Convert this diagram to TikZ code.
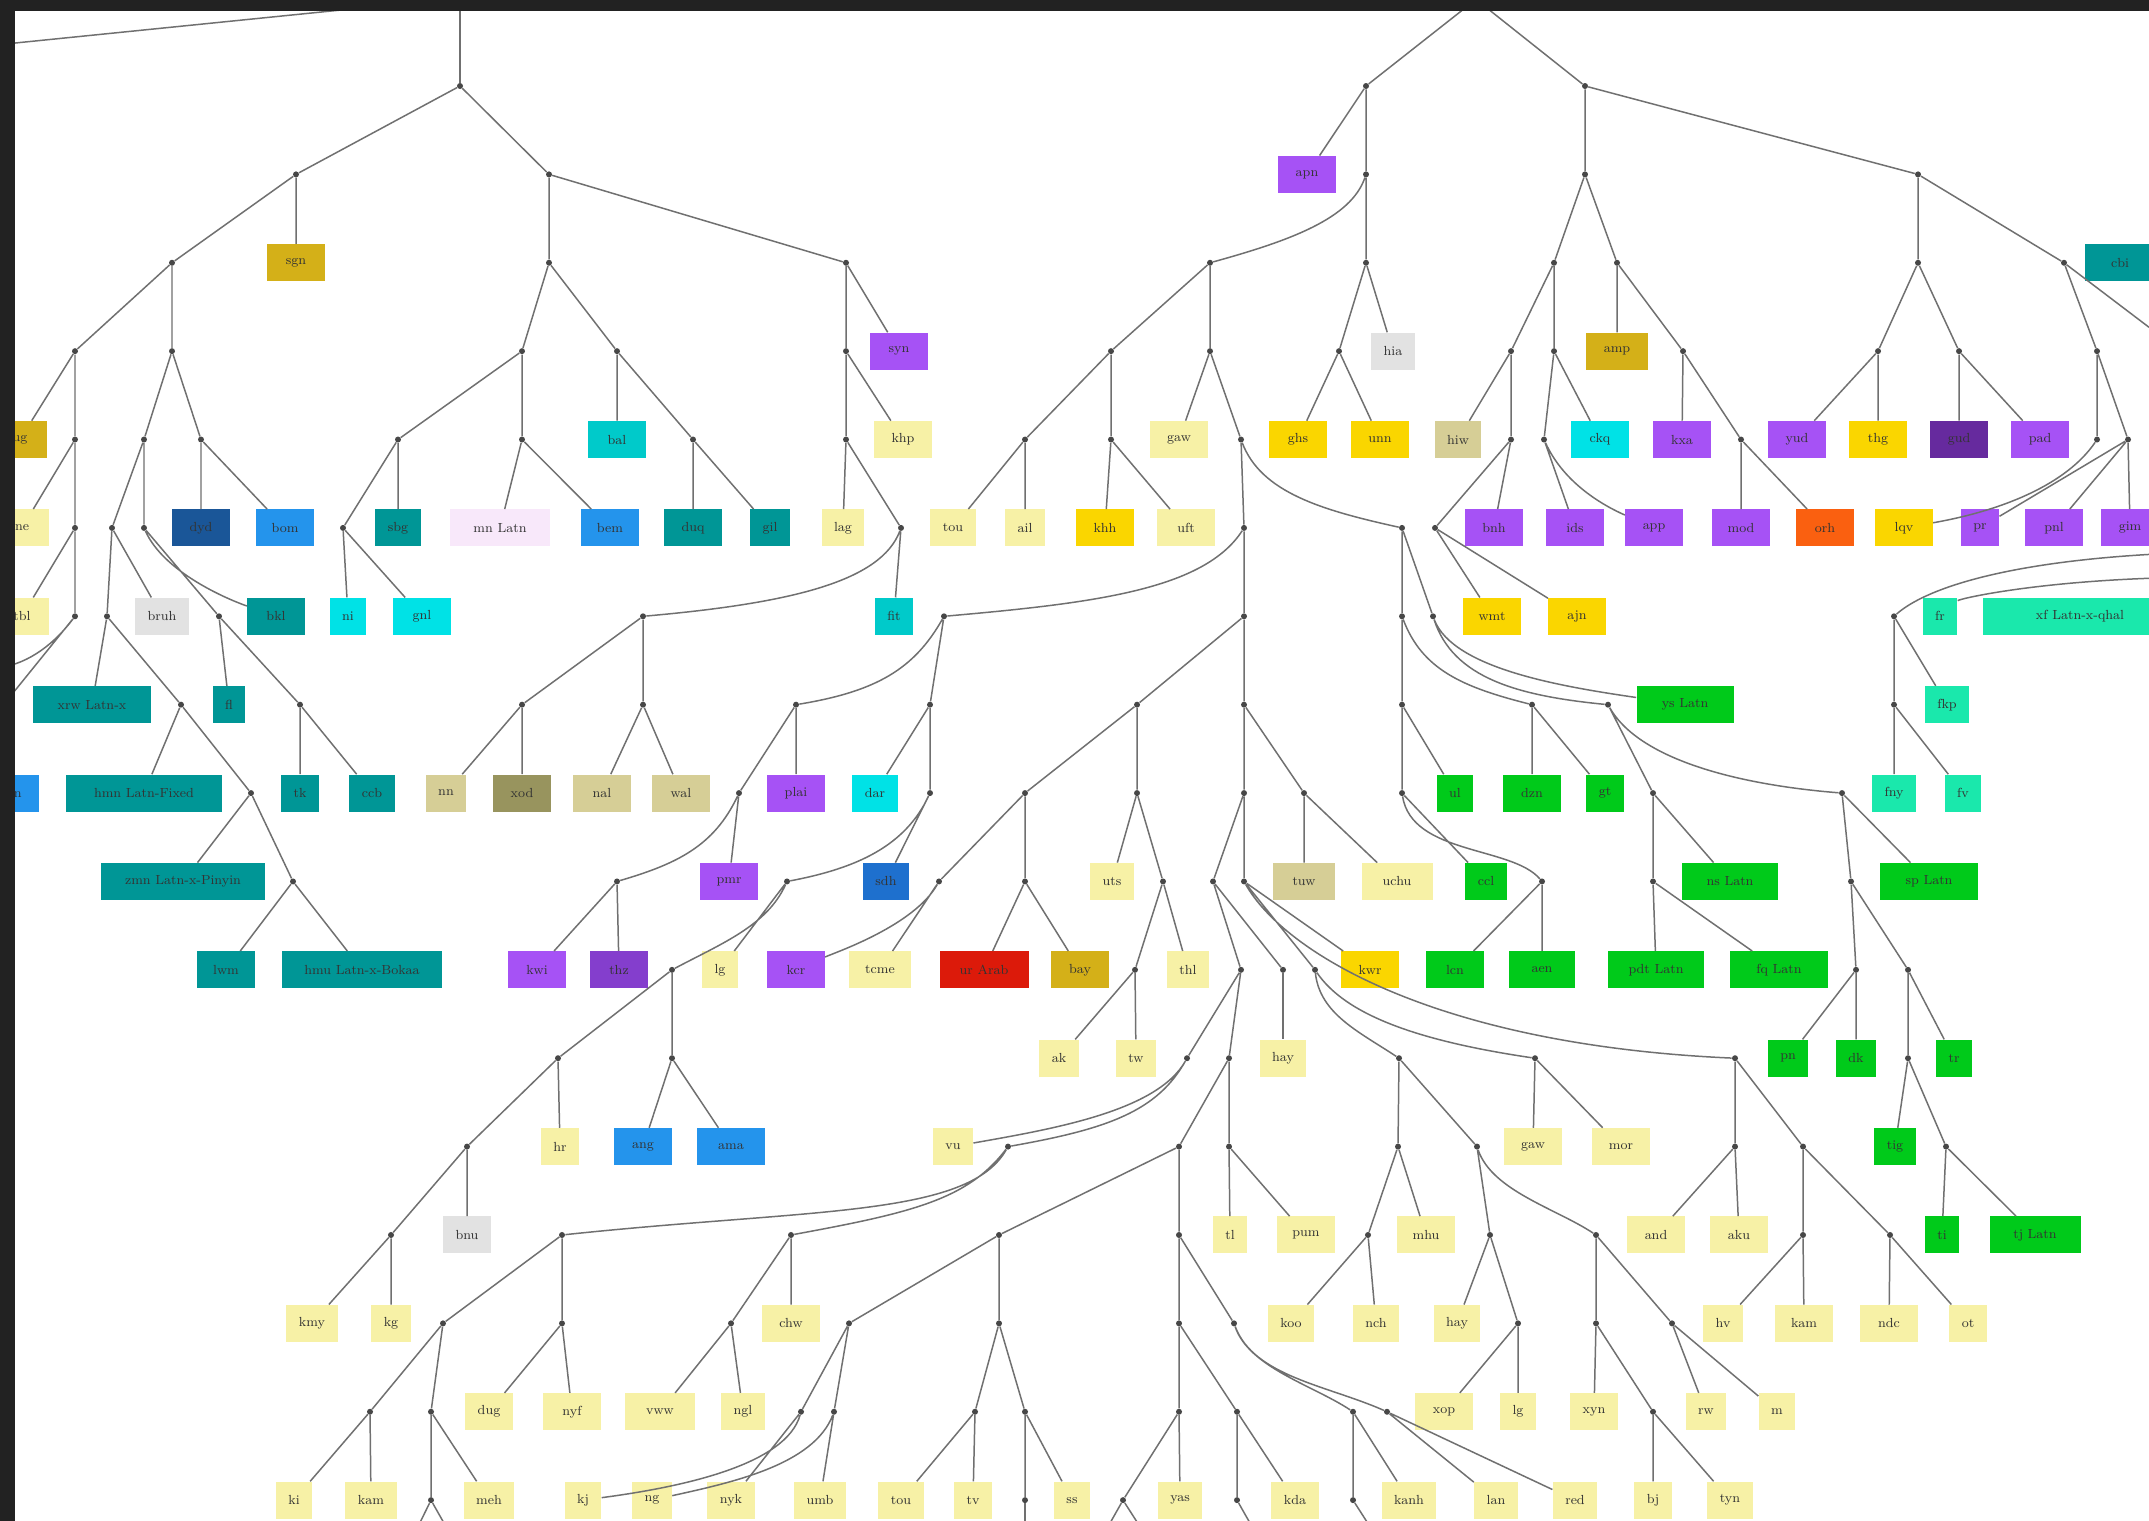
\documentclass[tikz,border=0pt]{standalone}
\usepackage{fontspec}
\usepackage{xcolor}
\usepackage{tikz}
\usetikzlibrary{positioning}
\definecolor{lgPale}{RGB}{247,241,166}
\definecolor{lgGold}{RGB}{250,214,0}
\definecolor{lgOchre}{RGB}{212,176,24}
\definecolor{lgKhaki}{RGB}{214,206,150}
\definecolor{lgOlive}{RGB}{152,148,94}
\definecolor{lgPurple}{RGB}{166,82,245}
\definecolor{lgViolet}{RGB}{132,62,205}
\definecolor{lgPlum}{RGB}{102,42,158}
\definecolor{lgTeal}{RGB}{0,150,150}
\definecolor{lgTurq}{RGB}{0,202,202}
\definecolor{lgCyan}{RGB}{0,226,230}
\definecolor{lgNavy}{RGB}{26,86,152}
\definecolor{lgBlue}{RGB}{36,148,236}
\definecolor{lgBlueMid}{RGB}{30,112,206}
\definecolor{lgGray}{RGB}{226,226,226}
\definecolor{lgPink}{RGB}{248,232,250}
\definecolor{lgGreen}{RGB}{0,202,26}
\definecolor{lgMint}{RGB}{26,232,172}
\definecolor{lgRed}{RGB}{220,26,10}
\definecolor{lgOrange}{RGB}{250,96,16}
\definecolor{lgEdge}{RGB}{112,112,112}
\definecolor{lgFrame}{RGB}{34,34,34}
\tikzset{
  junc/.style={circle, fill=black!72, inner sep=0pt, minimum size=0.12cm},
  lang/.style={rectangle, inner xsep=0.25cm, inner ysep=0pt, minimum height=0.74cm,
    font=\fontsize{7.5}{9}\selectfont, text=black!80},
  langw/.style={lang, minimum width=1.15cm},
  lnk/.style={lgEdge, line width=0.85pt},
}
\begin{document}
\begin{tikzpicture}[x=0.02cm, y=-1.768cm]
\useasboundingbox (0,-0.973) rectangle (2149,16.233);
\clip (0,-0.973) rectangle (2149,16.233);
\fill[white] (0,-0.973) rectangle (2149,16.233);

% frame ends
\coordinate (topA) at (460,-0.98);
\coordinate (topR) at (1476,-0.98);
\coordinate (tlW) at (0,-0.469);
\coordinate (tlN) at (440,-0.973);
\coordinate (offE3a) at (0,6.58);
\coordinate (offE3b) at (0,7.05);
\coordinate (offR21) at (2149,2.73);
\coordinate (offT1) at (2149,5.30);
\coordinate (offFr) at (2149,5.57);
\coordinate (bZ9a) at (418,16.3);
\coordinate (bZ9b) at (446,16.3);
\coordinate (bY21a) at (1108,16.3);
\coordinate (bY21b) at (1140,16.3);
\coordinate (bY22) at (1252,16.3);
\coordinate (bY20) at (1370,16.3);
\coordinate (bZ17) at (1025,16.3);

% junctions, left half
\node[junc] (A) at (460,0) {};
\node[junc] (B1) at (296,1) {};
\node[junc] (B2) at (549,1) {};
\node[junc] (C1) at (172,2) {};
\node[junc] (C2) at (549,2) {};
\node[junc] (C3) at (846,2) {};
\node[junc] (D1) at (75,3) {};
\node[junc] (D2) at (172,3) {};
\node[junc] (D3) at (522,3) {};
\node[junc] (D4) at (617,3) {};
\node[junc] (D5) at (846,3) {};
\node[junc] (E1) at (75,4) {};
\node[junc] (F1) at (144,4) {};
\node[junc] (F2) at (201,4) {};
\node[junc] (E4) at (398,4) {};
\node[junc] (E5) at (522,4) {};
\node[junc] (E6) at (693,4) {};
\node[junc] (E7) at (846,4) {};
\node[junc] (E8) at (1025,4) {};
\node[junc] (E2) at (75,5) {};
\node[junc] (G1) at (112,5) {};
\node[junc] (G2) at (144,5) {};
\node[junc] (F3) at (343,5) {};
\node[junc] (P1) at (901,5) {};
\node[junc] (E3) at (75,6) {};
\node[junc] (G4) at (107,6) {};
\node[junc] (G3) at (219,6) {};
\node[junc] (P2) at (643,6) {};
\node[junc] (H2) at (181,7) {};
\node[junc] (H1) at (300,7) {};
\node[junc] (P4) at (522,7) {};
\node[junc] (P3) at (643,7) {};
\node[junc] (I1) at (251,8) {};
\node[junc] (J1) at (293,9) {};

% junctions, right half
\node[junc] (R1) at (1366,0) {};
\node[junc] (R2) at (1585,0) {};
\node[junc] (R4) at (1366,1) {};
\node[junc] (R16) at (1585,1) {};
\node[junc] (R3) at (1918,1) {};
\node[junc] (R5) at (1210,2) {};
\node[junc] (R6) at (1366,2) {};
\node[junc] (R14) at (1554,2) {};
\node[junc] (R17) at (1617,2) {};
\node[junc] (R20) at (1918,2) {};
\node[junc] (R21) at (2064,2) {};
\node[junc] (R7) at (1111,3) {};
\node[junc] (R8) at (1210,3) {};
\node[junc] (R11) at (1339,3) {};
\node[junc] (R12) at (1511,3) {};
\node[junc] (R15) at (1554,3) {};
\node[junc] (R18) at (1683,3) {};
\node[junc] (R23) at (1878,3) {};
\node[junc] (R24) at (1959,3) {};
\node[junc] (R25) at (2097,3) {};
\node[junc] (R9) at (1111,4) {};
\node[junc] (R10) at (1241,4) {};
\node[junc] (R13) at (1511,4) {};
\node[junc] (R19) at (1544,4) {};
\node[junc] (R22) at (1741,4) {};
\node[junc] (R26) at (2097,4) {};
\node[junc] (R27) at (2128,4) {};
\node[junc] (R28) at (1244,5) {};
\node[junc] (V1) at (1402,5) {};
\node[junc] (V2) at (1435,5) {};
\node[junc] (X2) at (944,6) {};
\node[junc] (X1) at (1244,6) {};
\node[junc] (V3) at (1402,6) {};
\node[junc] (V4) at (1433,6) {};
\node[junc] (T1) at (1894,6) {};
\node[junc] (P5) at (796,7) {};
\node[junc] (P6) at (930,7) {};
\node[junc] (X3) at (1137,7) {};
\node[junc] (X4) at (1244,7) {};
\node[junc] (V5) at (1402,7) {};
\node[junc] (V6) at (1532,7) {};
\node[junc] (U1) at (1608,7) {};
\node[junc] (T2) at (1894,7) {};
\node[junc] (P7) at (739,8) {};
\node[junc] (P8) at (930,8) {};
\node[junc] (X9) at (1025,8) {};
\node[junc] (X5) at (1137,8) {};
\node[junc] (X6) at (1244,8) {};
\node[junc] (X7) at (1304,8) {};
\node[junc] (V7) at (1402,8) {};
\node[junc] (U2) at (1653,8) {};
\node[junc] (U4) at (1842,8) {};
\node[junc] (P9) at (617,9) {};
\node[junc] (P10) at (787,9) {};
\node[junc] (P11) at (939,9) {};
\node[junc] (X10) at (1025,9) {};
\node[junc] (X8) at (1163,9) {};
\node[junc] (X12) at (1213,9) {};
\node[junc] (X13) at (1244,9) {};
\node[junc] (V8) at (1542,9) {};
\node[junc] (U3) at (1653,9) {};
\node[junc] (U5) at (1851,9) {};
\node[junc] (P12) at (672,10) {};
\node[junc] (X11) at (1135,10) {};
\node[junc] (X14) at (1241,10) {};
\node[junc] (X15) at (1283,10) {};
\node[junc] (X16) at (1315,10) {};
\node[junc] (U6) at (1856,10) {};
\node[junc] (U7) at (1908,10) {};
\node[junc] (P14) at (558,11) {};
\node[junc] (P13) at (672,11) {};
\node[junc] (Y1) at (1187,11) {};
\node[junc] (Y2) at (1229,11) {};
\node[junc] (Y3) at (1399,11) {};
\node[junc] (Y4) at (1535,11) {};
\node[junc] (W1) at (1735,11) {};
\node[junc] (U8) at (1908,11) {};
\node[junc] (P15) at (467,12) {};
\node[junc] (Z1) at (1008,12) {};
\node[junc] (Y5) at (1179,12) {};
\node[junc] (Y6) at (1229,12) {};
\node[junc] (Y8) at (1398,12) {};
\node[junc] (Y9) at (1477,12) {};
\node[junc] (W2) at (1735,12) {};
\node[junc] (W3) at (1803,12) {};
\node[junc] (U9) at (1946,12) {};
\node[junc] (P16) at (391,13) {};
\node[junc] (Z2) at (562,13) {};
\node[junc] (Z3) at (791,13) {};
\node[junc] (Z4) at (999,13) {};
\node[junc] (Y7) at (1179,13) {};
\node[junc] (Y10) at (1368,13) {};
\node[junc] (Y11) at (1490,13) {};
\node[junc] (Y12) at (1596,13) {};
\node[junc] (W4) at (1803,13) {};
\node[junc] (W5) at (1890,13) {};
\node[junc] (Z6) at (443,14) {};
\node[junc] (Z5) at (562,14) {};
\node[junc] (Z10) at (731,14) {};
\node[junc] (Z11) at (849,14) {};
\node[junc] (Z12) at (999,14) {};
\node[junc] (Y14) at (1179,14) {};
\node[junc] (Y15) at (1234,14) {};
\node[junc] (Y13) at (1518,14) {};
\node[junc] (Y23) at (1596,14) {};
\node[junc] (Y24) at (1672,14) {};
\node[junc] (Z7) at (370,15) {};
\node[junc] (Z8) at (431,15) {};
\node[junc] (Z13) at (801,15) {};
\node[junc] (Z14) at (834,15) {};
\node[junc] (Z15) at (975,15) {};
\node[junc] (Z16) at (1025,15) {};
\node[junc] (Y16) at (1179,15) {};
\node[junc] (Y17) at (1237,15) {};
\node[junc] (Y18) at (1353,15) {};
\node[junc] (Y19) at (1387,15) {};
\node[junc] (Y25) at (1653,15) {};
\node[junc] (Z9) at (431,16) {};
\node[junc] (Z17) at (1025,16) {};
\node[junc] (Y21) at (1123,16) {};
\node[junc] (Y22) at (1237,16) {};
\node[junc] (Y20) at (1353,16) {};

% leaves, left half
\node[langw, fill=lgOchre] (l-sgn) at (296,2) {sgn};
\node[lang, fill=lgOchre, minimum width=1.1cm] (l-ug) at (20,4) {ug};
\node[lang, fill=lgPale, minimum width=1.1cm] (l-ne) at (22,5) {ne};
\node[lang, fill=lgPale, minimum width=1.1cm] (l-tbl) at (22,6) {tbl};
\node[lang, fill=lgBlue, minimum width=1.0cm] (l-bn) at (14,8) {bn};
\node[langw, fill=lgNavy] (l-dyd) at (201,5) {dyd};
\node[langw, fill=lgBlue] (l-bom) at (285,5) {bom};
\node[lang, fill=lgTeal] (l-sbg) at (398,5) {sbg};
\node[lang, fill=lgPink, minimum width=2.0cm] (l-mn) at (500,5) {mn Latn};
\node[langw, fill=lgBlue] (l-bem) at (610,5) {bem};
\node[langw, fill=lgTeal] (l-duq) at (693,5) {duq};
\node[lang, fill=lgTeal] (l-gil) at (770,5) {gil};
\node[lang, fill=lgGray] (l-bruh) at (162,6) {bruh};
\node[langw, fill=lgTeal] (l-bkl) at (276,6) {bkl};
\node[lang, fill=lgCyan] (l-ni) at (348,6) {ni};
\node[langw, fill=lgCyan] (l-gnl) at (422,6) {gnl};
\node[lang, fill=lgTeal, minimum width=2.38cm] (l-xrw) at (92,7) {xrw Latn-x};
\node[lang, fill=lgTeal] (l-fl) at (229,7) {fl};
\node[lang, fill=lgTeal, minimum width=3.14cm] (l-hmn) at (144,8) {hmn Latn-Fixed};
\node[lang, fill=lgTeal] (l-tk) at (300,8) {tk};
\node[lang, fill=lgTeal] (l-ccb) at (372,8) {ccb};
\node[lang, fill=lgTeal, minimum width=3.3cm] (l-zmn) at (183,9) {zmn Latn-x-Pinyin};
\node[langw, fill=lgTeal] (l-lwm) at (226,10) {lwm};
\node[lang, fill=lgTeal, minimum width=3.22cm] (l-hmu) at (362,10) {hmu Latn-x-Bokaa};
\node[langw, fill=lgTurq] (l-bal) at (617,4) {bal};
\node[langw, fill=lgPurple] (l-syn) at (899,3) {syn};
\node[langw, fill=lgPale] (l-khp) at (903,4) {khp};
\node[lang, fill=lgPale] (l-lag) at (843,5) {lag};
\node[lang, fill=lgPale] (l-tou1) at (953,5) {tou};
\node[lang, fill=lgPale] (l-ail) at (1025,5) {ail};
\node[langw, fill=lgGold] (l-khh) at (1105,5) {khh};
\node[langw, fill=lgPale] (l-uft) at (1186,5) {uft};
\node[lang, fill=lgTurq] (l-fit) at (894,6) {fit};
\node[lang, fill=lgKhaki] (l-nn) at (446,8) {nn};
\node[langw, fill=lgOlive] (l-xod) at (522,8) {xod};
\node[langw, fill=lgKhaki] (l-nal) at (602,8) {nal};
\node[langw, fill=lgKhaki] (l-wal) at (681,8) {wal};
\node[langw, fill=lgPurple] (l-plai) at (796,8) {plai};
\node[lang, fill=lgCyan] (l-dar) at (875,8) {dar};
\node[langw, fill=lgPurple] (l-pmr) at (729,9) {pmr};
\node[lang, fill=lgBlueMid] (l-sdh) at (886,9) {sdh};
\node[langw, fill=lgPurple] (l-kwi) at (537,10) {kwi};
\node[langw, fill=lgViolet] (l-thz) at (619,10) {thz};
\node[lang, fill=lgPale] (l-lg1) at (720,10) {lg};
\node[langw, fill=lgPurple] (l-kcr) at (796,10) {kcr};
\node[lang, fill=lgPale, minimum width=1.25cm] (l-tcme) at (880,10) {tcme};
\node[lang, fill=lgRed, minimum width=1.78cm] (l-urd) at (984,10) {ur Arab};
\node[langw, fill=lgOchre] (l-bay) at (1080,10) {bay};
\node[lang, fill=lgPale] (l-uts) at (1112,9) {uts};
\node[lang, fill=lgPale] (l-thl) at (1188,10) {thl};
\node[lang, fill=lgKhaki, minimum width=1.25cm] (l-tuw) at (1304,9) {tuw};
\node[lang, fill=lgPale, minimum width=1.42cm] (l-uchu) at (1397,9) {uchu};
\node[langw, fill=lgGold] (l-kwr) at (1370,10) {kwr};
\node[lang, fill=lgPale] (l-ak) at (1059,11) {ak};
\node[lang, fill=lgPale] (l-tw) at (1136,11) {tw};
\node[lang, fill=lgPale] (l-hay1) at (1283,11) {hay};
\node[lang, fill=lgPale] (l-hr) at (560,12) {hr};
\node[langw, fill=lgBlue] (l-ang) at (643,12) {ang};
\node[lang, fill=lgBlue, minimum width=1.37cm] (l-ama) at (731,12) {ama};
\node[lang, fill=lgPale] (l-vu) at (953,12) {vu};
\node[lang, fill=lgGray] (l-bnu) at (467,13) {bnu};
\node[lang, fill=lgPale] (l-kmy) at (312,14) {kmy};
\node[lang, fill=lgPale] (l-kg) at (391,14) {kg};
\node[langw, fill=lgPale] (l-chw) at (791,14) {chw};
\node[lang, fill=lgPale] (l-dug) at (489,15) {dug};
\node[langw, fill=lgPale] (l-nyf) at (572,15) {nyf};
\node[lang, fill=lgPale, minimum width=1.4cm] (l-vww) at (660,15) {vww};
\node[lang, fill=lgPale] (l-ngl) at (743,15) {ngl};
\node[lang, fill=lgPale] (l-ki) at (294,16) {ki};
\node[lang, fill=lgPale] (l-kam1) at (371,16) {kam};
\node[lang, fill=lgPale] (l-meh) at (489,16) {meh};
\node[lang, fill=lgPale] (l-kj) at (583,16) {kj};
\node[lang, fill=lgPale] (l-ng) at (652,16) {ng};
\node[lang, fill=lgPale] (l-nyk) at (731,16) {nyk};
\node[lang, fill=lgPale] (l-umb) at (820,16) {umb};
\node[lang, fill=lgPale] (l-tou2) at (901,16) {tou};
\node[lang, fill=lgPale] (l-tv) at (973,16) {tv};
\node[lang, fill=lgPale] (l-ss) at (1072,16) {ss};
\node[lang, fill=lgPale] (l-yas) at (1180,16) {yas};
\node[lang, fill=lgPale] (l-kda) at (1295,16) {kda};
\node[lang, fill=lgPale] (l-kanh) at (1409,16) {kanh};
\node[lang, fill=lgPale] (l-lan) at (1496,16) {lan};
\node[lang, fill=lgPale] (l-red) at (1575,16) {red};
\node[lang, fill=lgPale] (l-bj) at (1653,16) {bj};
\node[lang, fill=lgPale] (l-tyn) at (1730,16) {tyn};
\node[lang, fill=lgPale] (l-tl) at (1230,13) {tl};
\node[langw, fill=lgPale] (l-pum) at (1306,13) {pum};
\node[langw, fill=lgPale] (l-mhu) at (1426,13) {mhu};
\node[lang, fill=lgPale] (l-koo) at (1291,14) {koo};
\node[lang, fill=lgPale] (l-nch) at (1376,14) {nch};
\node[lang, fill=lgPale] (l-hay2) at (1457,14) {hay};
\node[langw, fill=lgPale] (l-xop) at (1444,15) {xop};
\node[lang, fill=lgPale] (l-lg2) at (1518,15) {lg};
\node[lang, fill=lgPale] (l-xyn) at (1594,15) {xyn};
\node[lang, fill=lgPale] (l-rw) at (1706,15) {rw};
\node[lang, fill=lgPale] (l-m) at (1777,15) {m};
\node[langw, fill=lgPale] (l-gaw2) at (1533,12) {gaw};
\node[langw, fill=lgPale] (l-mor) at (1621,12) {mor};
\node[langw, fill=lgPale] (l-and) at (1656,13) {and};
\node[langw, fill=lgPale] (l-aku) at (1739,13) {aku};
\node[lang, fill=lgPale] (l-hv) at (1723,14) {hv};
\node[langw, fill=lgPale] (l-kam2) at (1804,14) {kam};
\node[langw, fill=lgPale] (l-ndc) at (1889,14) {ndc};
\node[lang, fill=lgPale] (l-ot) at (1968,14) {ot};

% leaves, right half
\node[langw, fill=lgPurple] (l-apn) at (1307,1) {apn};
\node[langw, fill=lgPale] (l-gaw1) at (1179,4) {gaw};
\node[lang, fill=lgGray] (l-hia) at (1393,3) {hia};
\node[langw, fill=lgGold] (l-ghs) at (1298,4) {ghs};
\node[langw, fill=lgGold] (l-unn) at (1380,4) {unn};
\node[lang, fill=lgKhaki] (l-hiw) at (1458,4) {hiw};
\node[langw, fill=lgCyan] (l-ckq) at (1600,4) {ckq};
\node[lang, fill=lgOchre, minimum width=1.25cm] (l-amp) at (1617,3) {amp};
\node[langw, fill=lgPurple] (l-kxa) at (1682,4) {kxa};
\node[langw, fill=lgPurple] (l-yud) at (1797,4) {yud};
\node[langw, fill=lgGold] (l-thg) at (1878,4) {thg};
\node[langw, fill=lgPlum] (l-gud) at (1959,4) {gud};
\node[langw, fill=lgPurple] (l-pad) at (2040,4) {pad};
\node[lang, fill=lgTeal, minimum width=1.4cm] (l-cbi) at (2120,2) {cbi};
\node[langw, fill=lgPurple] (l-bnh) at (1494,5) {bnh};
\node[langw, fill=lgPurple] (l-ids) at (1575,5) {ids};
\node[langw, fill=lgPurple] (l-app) at (1654,5) {app};
\node[langw, fill=lgPurple] (l-mod) at (1741,5) {mod};
\node[langw, fill=lgOrange] (l-orh) at (1825,5) {orh};
\node[langw, fill=lgGold] (l-lqv) at (1904,5) {lqv};
\node[lang, fill=lgPurple] (l-pr) at (1980,5) {pr};
\node[langw, fill=lgPurple] (l-pnl) at (2054,5) {pnl};
\node[langw, fill=lgPurple] (l-gim) at (2130,5) {gim};
\node[langw, fill=lgGold] (l-wmt) at (1492,6) {wmt};
\node[langw, fill=lgGold] (l-ajn) at (1577,6) {ajn};
\node[lang, fill=lgMint] (l-fr) at (1940,6) {fr};
\node[lang, fill=lgMint, minimum width=3.9cm] (l-xf) at (2080,6) {xf Latn-x-qhal};
\node[lang, fill=lgGreen, minimum width=1.94cm] (l-ys) at (1685,7) {ys Latn};
\node[lang, fill=lgMint] (l-fkp) at (1947,7) {fkp};
\node[lang, fill=lgGreen] (l-ul) at (1455,8) {ul};
\node[langw, fill=lgGreen] (l-dzn) at (1532,8) {dzn};
\node[lang, fill=lgGreen] (l-gt) at (1605,8) {gt};
\node[lang, fill=lgMint] (l-fny) at (1894,8) {fny};
\node[lang, fill=lgMint] (l-fv) at (1963,8) {fv};
\node[lang, fill=lgGreen] (l-ccl) at (1486,9) {ccl};
\node[lang, fill=lgGreen, minimum width=1.92cm] (l-ns) at (1730,9) {ns Latn};
\node[lang, fill=lgGreen, minimum width=1.96cm] (l-sp) at (1929,9) {sp Latn};
\node[langw, fill=lgGreen] (l-lcn) at (1455,10) {lcn};
\node[lang, fill=lgGreen, minimum width=1.32cm] (l-aen) at (1542,10) {aen};
\node[lang, fill=lgGreen, minimum width=1.92cm] (l-pdt) at (1656,10) {pdt Latn};
\node[lang, fill=lgGreen, minimum width=1.96cm] (l-fq) at (1779,10) {fq Latn};
\node[lang, fill=lgGreen] (l-pn) at (1788,11) {pn};
\node[lang, fill=lgGreen] (l-dk) at (1856,11) {dk};
\node[lang, fill=lgGreen] (l-tr) at (1954,11) {tr};
\node[lang, fill=lgGreen] (l-tig) at (1895,12) {tig};
\node[lang, fill=lgGreen] (l-ti) at (1942,13) {ti};
\node[lang, fill=lgGreen, minimum width=1.82cm] (l-tj) at (2035,13) {tj Latn};

% links, left half
\draw[lnk] (topA) -- (A);
\draw[lnk] (tlW) -- (tlN);
\draw[lnk] (A) -- (B1) (A) -- (B2);
\draw[lnk] (B1) -- (C1) (B1) -- (l-sgn);
\draw[lnk] (C1) -- (D1) (C1) -- (D2);
\draw[lnk] (D1) -- (l-ug) (D1) -- (E1);
\draw[lnk] (E1) -- (l-ne) (E1) -- (E2);
\draw[lnk] (E2) -- (l-tbl) (E2) -- (E3);
\draw[lnk] (E3) .. controls +(-20,0.3) and +(30,-0.05) .. (offE3a) (E3) -- (offE3b);
\draw[lnk] (D2) -- (F1) (D2) -- (F2);
\draw[lnk] (F1) -- (G1) (F1) -- (G2);
\draw[lnk] (F2) -- (l-dyd) (F2) -- (l-bom);
\draw[lnk] (G1) -- (G4) (G1) -- (l-bruh);
\draw[lnk] (G2) .. controls +(20,0.5) and +(-50,-0.2) .. (l-bkl) (G2) -- (G3);
\draw[lnk] (G4) -- (l-xrw) (G4) -- (H2);
\draw[lnk] (G3) -- (l-fl) (G3) -- (H1);
\draw[lnk] (H2) -- (l-hmn) (H2) -- (I1);
\draw[lnk] (H1) -- (l-tk) (H1) -- (l-ccb);
\draw[lnk] (I1) -- (l-zmn) (I1) -- (J1);
\draw[lnk] (J1) -- (l-lwm) (J1) -- (l-hmu);
\draw[lnk] (B2) -- (C2) (B2) -- (C3);
\draw[lnk] (C2) -- (D3) (C2) -- (D4);
\draw[lnk] (D3) -- (E4) (D3) -- (E5);
\draw[lnk] (E4) -- (F3) (E4) -- (l-sbg);
\draw[lnk] (E5) -- (l-mn) (E5) -- (l-bem);
\draw[lnk] (F3) -- (l-ni) (F3) -- (l-gnl);
\draw[lnk] (D4) -- (l-bal) (D4) -- (E6);
\draw[lnk] (E6) -- (l-duq) (E6) -- (l-gil);
\draw[lnk] (C3) -- (l-syn) (C3) -- (D5);
\draw[lnk] (D5) -- (l-khp) (D5) -- (E7);
\draw[lnk] (E7) -- (l-lag) (E7) -- (P1);
\draw[lnk] (P1) -- (l-fit) (P1) .. controls +(-20,0.6) and +(150,-0.15) .. (P2);
\draw[lnk] (P2) -- (P3) (P2) -- (P4);
\draw[lnk] (P3) -- (l-nal) (P3) -- (l-wal);
\draw[lnk] (P4) -- (l-nn) (P4) -- (l-xod);

% links, upper right
\draw[lnk] (topR) -- (R1) (topR) -- (R2);
\draw[lnk] (R1) -- (l-apn) (R1) -- (R4);
\draw[lnk] (R4) .. controls +(-15,0.5) and +(80,-0.25) .. (R5) (R4) -- (R6);
\draw[lnk] (R5) -- (R7) (R5) -- (R8);
\draw[lnk] (R7) -- (E8) (R7) -- (R9);
\draw[lnk] (E8) -- (l-tou1) (E8) -- (l-ail);
\draw[lnk] (R9) -- (l-khh) (R9) -- (l-uft);
\draw[lnk] (R8) -- (l-gaw1) (R8) -- (R10);
\draw[lnk] (R10) -- (R28) (R10) .. controls +(20,0.6) and +(-80,-0.2) .. (V1);
\draw[lnk] (R6) -- (R11) (R6) -- (l-hia);
\draw[lnk] (R11) -- (l-ghs) (R11) -- (l-unn);
\draw[lnk] (R2) -- (R16) (R2) -- (R3);
\draw[lnk] (R16) -- (R14) (R16) -- (R17);
\draw[lnk] (R14) -- (R12) (R14) -- (R15);
\draw[lnk] (R12) -- (l-hiw) (R12) -- (R13);
\draw[lnk] (R13) -- (V2) (R13) -- (l-bnh);
\draw[lnk] (R15) -- (R19) (R15) -- (l-ckq);
\draw[lnk] (R19) -- (l-ids) (R19) .. controls +(20,0.5) and +(-50,-0.25) .. (l-app);
\draw[lnk] (R17) -- (l-amp) (R17) -- (R18);
\draw[lnk] (R18) -- (l-kxa) (R18) -- (R22);
\draw[lnk] (R22) -- (l-mod) (R22) -- (l-orh);
\draw[lnk] (R3) -- (R20) (R3) -- (R21);
\draw[lnk] (R20) -- (R23) (R20) -- (R24);
\draw[lnk] (R23) -- (l-yud) (R23) -- (l-thg);
\draw[lnk] (R24) -- (l-gud) (R24) -- (l-pad);
\draw[lnk] (R21) -- (R25) (R21) -- (offR21);
\draw[lnk] (R25) -- (R26) (R25) -- (R27);
\draw[lnk] (R26) .. controls +(-30,0.5) and +(100,-0.2) .. (l-lqv);
\draw[lnk] (R27) -- (l-pr) (R27) -- (l-pnl) (R27) -- (l-gim);
\draw[lnk] (offT1) .. controls +(-150,0.1) and +(30,-0.3) .. (T1);
\draw[lnk] (offFr) .. controls +(-120,0.05) and +(20,-0.2) .. (l-fr);
\draw[lnk] (T1) -- (T2) (T1) -- (l-fkp);
\draw[lnk] (T2) -- (l-fny) (T2) -- (l-fv);

% links, middle
\draw[lnk] (R28) -- (X1) (R28) .. controls +(-40,0.7) and +(150,-0.15) .. (X2);
\draw[lnk] (X2) .. controls +(-30,0.6) and +(80,-0.15) .. (P5) (X2) -- (P6);
\draw[lnk] (P5) -- (P7) (P5) -- (l-plai);
\draw[lnk] (P6) -- (l-dar) (P6) -- (P8);
\draw[lnk] (P7) -- (l-pmr) (P7) .. controls +(-25,0.6) and +(60,-0.2) .. (P9);
\draw[lnk] (P8) -- (l-sdh) (P8) .. controls +(-25,0.6) and +(70,-0.15) .. (P10);
\draw[lnk] (P9) -- (l-kwi) (P9) -- (l-thz);
\draw[lnk] (P10) -- (l-lg1) (P10) .. controls +(-20,0.5) and +(50,-0.3) .. (P12);
\draw[lnk] (P12) -- (P14) (P12) -- (P13);
\draw[lnk] (P14) -- (l-hr) (P14) -- (P15);
\draw[lnk] (P13) -- (l-ang) (P13) -- (l-ama);
\draw[lnk] (P15) -- (l-bnu) (P15) -- (P16);
\draw[lnk] (P16) -- (l-kmy) (P16) -- (l-kg);
\draw[lnk] (X1) -- (X3) (X1) -- (X4);
\draw[lnk] (X3) -- (X9) (X3) -- (X5);
\draw[lnk] (X9) -- (P11) (X9) -- (X10);
\draw[lnk] (P11) .. controls +(-25,0.5) and +(40,-0.2) .. (l-kcr) (P11) -- (l-tcme);
\draw[lnk] (X10) -- (l-urd) (X10) -- (l-bay);
\draw[lnk] (X5) -- (l-uts) (X5) -- (X8);
\draw[lnk] (X8) -- (X11) (X8) -- (l-thl);
\draw[lnk] (X11) -- (l-ak) (X11) -- (l-tw);
\draw[lnk] (X4) -- (X6) (X4) -- (X7);
\draw[lnk] (X6) -- (X12) (X6) -- (X13);
\draw[lnk] (X7) -- (l-tuw) (X7) -- (l-uchu);
\draw[lnk] (X12) -- (X14) (X12) -- (X15);
\draw[lnk] (X13) -- (X16) (X13) -- (l-kwr) (X13) .. controls +(40,0.8) and +(-300,-0.15) .. (W1);
\draw[lnk] (X14) -- (Y1) (X14) -- (Y2);
\draw[lnk] (X15) -- (l-hay1);
\draw[lnk] (X16) .. controls +(5,0.5) and +(-40,-0.3) .. (Y3) (X16) .. controls +(30,0.5) and +(-120,-0.2) .. (Y4);
\draw[lnk] (Y1) .. controls +(-30,0.6) and +(100,-0.2) .. (l-vu) (Y1) .. controls +(-30,0.6) and +(100,-0.2) .. (Z1);
\draw[lnk] (Z1) .. controls +(-40,0.8) and +(250,-0.3) .. (Z2) (Z1) .. controls +(-40,0.6) and +(120,-0.25) .. (Z3);
\draw[lnk] (Z2) -- (Z5) (Z2) -- (Z6);
\draw[lnk] (Z5) -- (l-dug) (Z5) -- (l-nyf);
\draw[lnk] (Z6) -- (Z7) (Z6) -- (Z8);
\draw[lnk] (Z7) -- (l-ki) (Z7) -- (l-kam1);
\draw[lnk] (Z8) -- (Z9) (Z8) -- (l-meh);
\draw[lnk] (Z9) -- (bZ9a) (Z9) -- (bZ9b);
\draw[lnk] (Z3) -- (Z10) (Z3) -- (l-chw);
\draw[lnk] (Z10) -- (l-vww) (Z10) -- (l-ngl);
\draw[lnk] (Y2) -- (Y5) (Y2) -- (Y6);
\draw[lnk] (Y5) -- (Z4) (Y5) -- (Y7);
\draw[lnk] (Z4) -- (Z11) (Z4) -- (Z12);
\draw[lnk] (Z11) -- (Z13) (Z11) -- (Z14);
\draw[lnk] (Z13) .. controls +(-15,0.6) and +(100,-0.15) .. (l-kj) (Z13) -- (l-nyk);
\draw[lnk] (Z14) .. controls +(-20,0.6) and +(80,-0.2) .. (l-ng) (Z14) -- (l-umb);
\draw[lnk] (Z12) -- (Z15) (Z12) -- (Z16);
\draw[lnk] (Z15) -- (l-tou2) (Z15) -- (l-tv);
\draw[lnk] (Z16) -- (Z17) (Z16) -- (l-ss);
\draw[lnk] (Z17) -- (bZ17);
\draw[lnk] (Y6) -- (l-tl) (Y6) -- (l-pum);
\draw[lnk] (Y7) -- (Y14) (Y7) -- (Y15);
\draw[lnk] (Y14) -- (Y16) (Y14) -- (Y17);
\draw[lnk] (Y16) -- (Y21) (Y16) -- (l-yas);
\draw[lnk] (Y17) -- (Y22) (Y17) -- (l-kda);
\draw[lnk] (Y21) -- (bY21a) (Y21) -- (bY21b);
\draw[lnk] (Y22) -- (bY22);
\draw[lnk] (Y15) .. controls +(15,0.5) and +(-40,-0.3) .. (Y18) (Y15) .. controls +(20,0.6) and +(-60,-0.3) .. (Y19);
\draw[lnk] (Y18) -- (Y20) (Y18) -- (l-kanh);
\draw[lnk] (Y20) -- (bY20);
\draw[lnk] (Y19) -- (l-lan) (Y19) -- (l-red);
\draw[lnk] (Y3) -- (Y8) (Y3) -- (Y9);
\draw[lnk] (Y8) -- (Y10) (Y8) -- (l-mhu);
\draw[lnk] (Y10) -- (l-koo) (Y10) -- (l-nch);
\draw[lnk] (Y9) -- (Y11) (Y9) .. controls +(15,0.5) and +(-40,-0.3) .. (Y12);
\draw[lnk] (Y11) -- (l-hay2) (Y11) -- (Y13);
\draw[lnk] (Y13) -- (l-xop) (Y13) -- (l-lg2);
\draw[lnk] (Y12) -- (Y23) (Y12) -- (Y24);
\draw[lnk] (Y23) -- (l-xyn) (Y23) -- (Y25);
\draw[lnk] (Y25) -- (l-bj) (Y25) -- (l-tyn);
\draw[lnk] (Y24) -- (l-rw) (Y24) -- (l-m);
\draw[lnk] (Y4) -- (l-gaw2) (Y4) -- (l-mor);
\draw[lnk] (W1) -- (W2) (W1) -- (W3);
\draw[lnk] (W2) -- (l-and) (W2) -- (l-aku);
\draw[lnk] (W3) -- (W4) (W3) -- (W5);
\draw[lnk] (W4) -- (l-hv) (W4) -- (l-kam2);
\draw[lnk] (W5) -- (l-ndc) (W5) -- (l-ot);

% links, right middle
\draw[lnk] (V1) -- (V3) (V1) -- (V4);
\draw[lnk] (V2) -- (l-wmt) (V2) -- (l-ajn);
\draw[lnk] (V3) -- (V5) (V3) .. controls +(20,0.6) and +(-70,-0.2) .. (V6);
\draw[lnk] (V4) .. controls +(20,0.7) and +(-90,-0.1) .. (U1) (V4) .. controls +(20,0.6) and +(-120,-0.2) .. (l-ys);
\draw[lnk] (V5) -- (V7) (V5) -- (l-ul);
\draw[lnk] (V6) -- (l-dzn) (V6) -- (l-gt);
\draw[lnk] (V7) -- (l-ccl) (V7) .. controls +(10,0.7) and +(-30,-0.4) .. (V8);
\draw[lnk] (V8) -- (l-lcn) (V8) -- (l-aen);
\draw[lnk] (U1) -- (U2) (U1) .. controls +(30,0.6) and +(-110,-0.1) .. (U4);
\draw[lnk] (U2) -- (U3) (U2) -- (l-ns);
\draw[lnk] (U3) -- (l-pdt) (U3) -- (l-fq);
\draw[lnk] (U4) -- (U5) (U4) -- (l-sp);
\draw[lnk] (U5) -- (U6) (U5) -- (U7);
\draw[lnk] (U6) -- (l-pn) (U6) -- (l-dk);
\draw[lnk] (U7) -- (U8) (U7) -- (l-tr);
\draw[lnk] (U8) -- (l-tig) (U8) -- (U9);
\draw[lnk] (U9) -- (l-ti) (U9) -- (l-tj);

% dark frame of the screenshot
\fill[lgFrame] (0,-0.973) rectangle (2149,-0.848);
\fill[lgFrame] (0,-0.973) rectangle (15,16.233);
\end{tikzpicture}
\end{document}
